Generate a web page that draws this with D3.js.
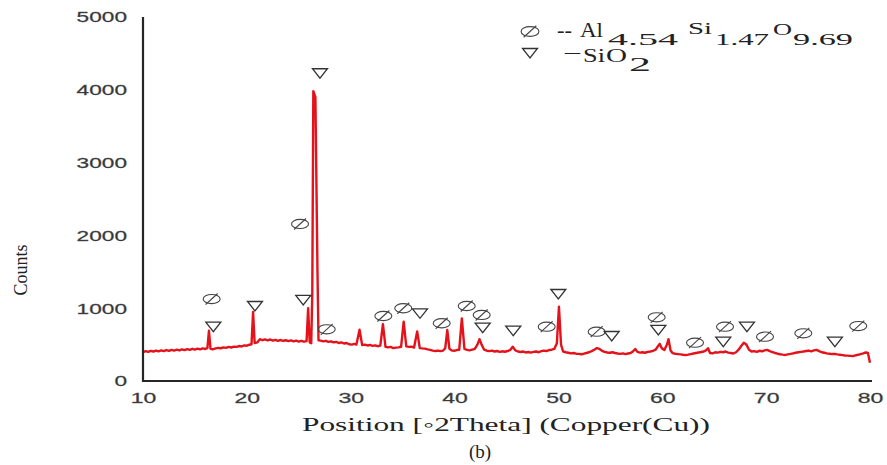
<!DOCTYPE html>
<html><head><meta charset="utf-8">
<script src="https://cdn.jsdelivr.net/npm/d3@7"></script>
<style>body{margin:0;background:#fff}</style>
</head><body>
<svg id="c" width="887" height="465"></svg>
<script>
// ---- data (2θ in degrees, counts) ----
const trace = [
[10.0,395],[10.25,410],[10.5,400],[10.75,415],[11.0,405],[11.25,418],[11.5,408],[11.75,420],[12.0,410],[12.25,425],
[12.5,415],[12.75,428],[13.0,418],[13.25,430],[13.5,420],[13.75,435],[14.0,425],[14.25,438],[14.5,428],[14.75,442],
[15.0,432],[15.25,445],[15.5,435],[15.75,448],[16.0,440],[16.2,452],[16.35,690],[16.5,445],[16.7,435],[17.0,448],
[17.25,455],[17.5,450],[17.75,462],[18.0,455],[18.25,468],[18.5,460],[18.75,472],[19.0,468],[19.25,480],[19.5,474],
[19.75,490],[20.0,485],[20.25,498],[20.45,505],[20.6,950],[20.75,520],[21.0,530],[21.25,575],[21.5,560],[21.75,572],
[22.0,558],[22.25,570],[22.5,555],[22.75,566],[23.0,552],[23.25,563],[23.5,550],[23.75,560],[24.0,548],[24.25,558],
[24.5,545],[24.75,555],[25.0,542],[25.25,552],[25.5,540],[25.75,548],[25.9,1000],[26.05,530],[26.2,520],[26.3,1200],
[26.4,3980],[26.6,3900],[26.8,1500],[26.9,560],[27.1,555],[27.35,545],[27.6,552],[27.85,538],[28.1,545],[28.35,530],
[28.6,538],[28.85,522],[29.1,530],[29.35,515],[29.6,522],[29.85,505],[30.1,500],[30.35,510],[30.55,500],[30.85,705],
[31.1,495],[31.35,500],[31.6,488],[31.85,495],[32.1,482],[32.35,490],[32.6,478],[32.85,485],[33.1,780],[33.35,470],
[33.6,462],[33.85,468],[34.1,452],[34.35,458],[34.6,462],[34.85,470],[35.1,815],[35.35,475],[35.6,468],[35.85,472],
[36.1,460],[36.4,680],[36.65,452],[36.9,448],[37.15,445],[37.4,435],[37.65,428],[37.9,418],[38.15,412],[38.4,418],
[38.65,410],[38.9,418],[39.1,450],[39.3,700],[39.5,445],[39.7,420],[39.95,415],[40.2,425],[40.45,430],[40.7,860],
[40.95,440],[41.2,428],[41.45,420],[41.7,430],[41.95,440],[42.2,500],[42.4,575],[42.6,500],[42.85,430],[43.1,416],
[43.35,410],[43.6,418],[43.85,405],[44.1,412],[44.35,400],[44.6,408],[44.85,402],[45.1,412],[45.35,425],[45.6,470],
[45.85,420],[46.1,405],[46.35,398],[46.6,405],[46.85,392],[47.1,398],[47.35,390],[47.6,400],[47.85,405],[48.1,395],
[48.35,410],[48.6,418],[48.85,412],[49.1,425],[49.35,430],[49.6,440],[49.85,520],[50.05,1020],[50.25,500],[50.45,405],
[50.7,395],[50.95,388],[51.2,380],[51.45,385],[51.7,375],[51.95,372],[52.2,368],[52.45,375],[52.7,385],[52.95,395],
[53.2,410],[53.45,430],[53.7,452],[53.95,440],[54.2,415],[54.45,400],[54.7,392],[54.95,388],[55.2,395],[55.45,385],
[55.7,378],[55.95,372],[56.2,380],[56.45,370],[56.7,378],[56.95,385],[57.2,410],[57.4,440],[57.6,400],[57.85,390],
[58.1,395],[58.35,388],[58.6,400],[58.85,405],[59.1,415],[59.35,430],[59.6,480],[59.75,510],[59.95,450],[60.2,425],
[60.45,500],[60.6,575],[60.8,420],[61.0,382],[61.25,375],[61.5,370],[61.75,365],[62.0,360],[62.25,356],[62.5,362],
[62.75,370],[63.0,378],[63.25,385],[63.5,392],[63.75,398],[64.0,405],[64.2,420],[64.4,450],[64.6,385],[64.85,380],
[65.1,395],[65.35,390],[65.6,400],[65.85,395],[66.1,405],[66.35,390],[66.6,385],[66.85,378],[67.1,395],[67.35,430],
[67.6,480],[67.85,525],[68.1,500],[68.35,430],[68.6,405],[68.85,410],[69.1,400],[69.35,415],[69.6,408],[69.85,420],
[70.1,428],[70.35,410],[70.6,398],[70.85,385],[71.1,375],[71.35,368],[71.6,362],[71.85,358],[72.1,365],[72.35,372],
[72.6,380],[72.85,388],[73.1,395],[73.35,400],[73.6,405],[73.85,412],[74.1,418],[74.35,408],[74.6,420],[74.85,428],
[75.1,410],[75.35,395],[75.6,388],[75.85,380],[76.1,375],[76.35,370],[76.6,372],[76.85,365],[77.1,360],[77.35,355],
[77.6,350],[77.85,348],[78.1,345],[78.35,342],[78.6,352],[78.85,360],[79.1,370],[79.35,380],[79.6,392],[79.8,385],
[80.0,250]
];
// Ø markers (Al4.54 Si1.47 O9.69) : [2θ, count position]
const aluminosilicate = [
[16.61,1126],[25.12,2157],[27.69,710],[33.14,893],[35.06,999],[38.76,793],[41.17,1030],[42.61,907],
[48.87,746],[53.68,677],[59.46,875],[63.15,526],[66.04,746],[69.89,609],[73.58,655],[78.87,755]
];
// ▽ markers (SiO2)
const quartz = [
[16.77,746],[20.78,1030],[25.43,1113],[27.04,4227],[36.67,930],[42.71,732],[45.65,691],[49.99,1195],
[55.13,618],[59.62,701],[65.87,540],[68.15,746],[76.62,540]
];
const xTicks = [10,20,30,40,50,60,70,80];
const yTicks = [0,1000,2000,3000,4000,5000];

// ---- drawing ----
const svg = d3.select("#c");
const x = d3.scaleLinear().domain([10,80]).range([143,870]);
const y = d3.scaleLinear().domain([0,5000]).range([381,17]);

// trace
svg.append("path").datum(trace)
  .attr("fill","none").attr("stroke","#e3121b").attr("stroke-width",2.4)
  .attr("stroke-linejoin","round")
  .attr("d", d3.line().x(d=>x(d[0])).y(d=>y(d[1])));

// axes
const tickFont = "Liberation Sans, Arial, sans-serif";
const ax = svg.append("g").attr("transform","translate(0,381)")
  .call(d3.axisBottom(x).tickValues(xTicks).tickSize(0).tickPadding(11).tickFormat(d3.format("d")));
ax.select(".domain").attr("d","M143,0H872").attr("stroke","#262626").attr("stroke-width",2.2);
ax.selectAll("text").attr("font-family",tickFont).attr("font-size",15)
  .attr("fill","#333").attr("stroke","#555").attr("stroke-width",0.3)
  .attr("textLength",d=>String(d).length*12.8).attr("lengthAdjust","spacingAndGlyphs");

const ay = svg.append("g").attr("transform","translate(143,0)")
  .call(d3.axisLeft(y).tickValues(yTicks).tickSize(0).tickPadding(16).tickFormat(d3.format("d")));
ay.select(".domain").attr("d","M0,17V382").attr("stroke","#262626").attr("stroke-width",2.2);
ay.selectAll("text").attr("font-family",tickFont).attr("font-size",15)
  .attr("fill","#333").attr("stroke","#555").attr("stroke-width",0.3)
  .attr("textLength",d=>String(d).length*12.6).attr("lengthAdjust","spacingAndGlyphs");

// markers
function phi(g, cx, cy, s){
  g.append("ellipse").attr("cx",cx).attr("cy",cy).attr("rx",8.5*s).attr("ry",4.6*s)
    .attr("fill","none").attr("stroke","#444").attr("stroke-width",1.1);
  g.append("line").attr("x1",cx-6*s).attr("y1",cy+5.5*s).attr("x2",cx+6*s).attr("y2",cy-5.5*s)
    .attr("stroke","#444").attr("stroke-width",1.1);
}
function tri(g, cx, cy, s){
  g.append("path").attr("d",`M${cx-7.5*s},${cy-4.5*s}H${cx+7.5*s}L${cx},${cy+5*s}Z`)
    .attr("fill","none").attr("stroke","#333").attr("stroke-width",1.3).attr("stroke-linejoin","miter");
}
const mk = svg.append("g");
aluminosilicate.forEach(d=>phi(mk, x(d[0]), y(d[1]), 1));
quartz.forEach(d=>tri(mk, x(d[0]), y(d[1]), 1));

// legend
const lg = svg.append("g").attr("font-family","Liberation Serif, Times New Roman, serif").attr("fill","#222");
phi(lg, 530, 31.5, 1.05);
tri(lg, 530, 53, 1.0);
const parts = [
  ["--",557,37,20,15],["Al",580,37,20,23],["4.54",608,44.5,16,70],
  ["Si",688,34,16,24],["1.47",715,44.5,16,54],["O",773,35,16,19],["9.69",793,44.5,16,60],
  ["–",565,58,18,15],["Si",583,61.5,18,22],["O",606,61.5,18,21],["2",629,70.5,19,22]
];
parts.forEach(p=>{
  lg.append("text").attr("x",p[1]).attr("y",p[2]).attr("font-size",p[3])
    .attr("textLength",p[4]).attr("lengthAdjust","spacingAndGlyphs").text(p[0]);
});

// axis titles
svg.append("text").attr("x",506).attr("y",431).attr("text-anchor","middle")
  .attr("font-family","Liberation Serif, Times New Roman, serif").attr("font-size",19).attr("fill","#222")
  .attr("textLength",408).attr("lengthAdjust","spacingAndGlyphs")
  .text("Position [◦2Theta] (Copper(Cu))");
svg.append("text").attr("x",480).attr("y",458).attr("text-anchor","middle")
  .attr("font-family","Liberation Serif, Times New Roman, serif").attr("font-size",19).attr("fill","#222")
  .text("(b)");
svg.append("text").attr("transform","translate(27,270) rotate(-90)").attr("text-anchor","middle")
  .attr("font-family","Liberation Serif, Times New Roman, serif").attr("font-size",18).attr("fill","#222")
  .attr("textLength",51).attr("lengthAdjust","spacingAndGlyphs")
  .text("Counts");
</script>
</body></html>
